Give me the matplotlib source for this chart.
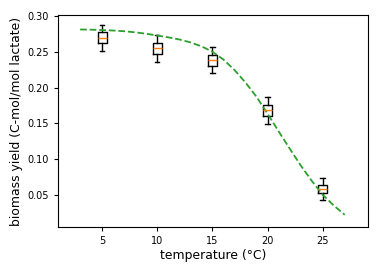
import matplotlib
matplotlib.use("Agg")
import matplotlib.pyplot as plt

temps = [5, 10, 15, 20, 25]
whislo = [0.2508, 0.2355, 0.2198, 0.1492, 0.0429]
q1 = [0.2620, 0.2471, 0.2304, 0.1603, 0.0526]
med = [0.2694, 0.2546, 0.2383, 0.1682, 0.0582]
q3 = [0.2769, 0.2624, 0.2457, 0.1760, 0.0642]
whishi = [0.2875, 0.2735, 0.2568, 0.1872, 0.0735]

# model curve
model_t = [3, 4, 5, 6, 7, 8, 9, 10, 11, 12, 13, 14, 15, 16, 17, 18, 19,
           20, 21, 22, 23, 24, 25, 26, 27]
model_y = [0.281, 0.2807, 0.2802, 0.2795, 0.2785, 0.2770, 0.2750, 0.2725,
           0.2700, 0.2670, 0.2630, 0.2575, 0.2500, 0.2390, 0.2245, 0.2070,
           0.1870, 0.1635, 0.1390, 0.1150, 0.0915, 0.0700, 0.0505, 0.0355,
           0.0224]

stats = []
for i in range(len(temps)):
    stats.append({"whislo": whislo[i], "q1": q1[i], "med": med[i],
                  "q3": q3[i], "whishi": whishi[i], "fliers": []})

fig = plt.figure(figsize=(3.82, 2.75), dpi=100)
ax = fig.add_axes([0.152, 0.1745, 0.811, 0.7705])

ax.bxp(stats, positions=temps, widths=0.8, manage_ticks=False,
       boxprops=dict(linewidth=1), whiskerprops=dict(linewidth=1),
       capprops=dict(linewidth=1), medianprops=dict(color="C1", linewidth=1))
ax.plot(model_t, model_y, "--", color="C2", linewidth=1.3)

ax.set_xlim(1, 29.1)
ax.set_ylim(0.0054, 0.301)
ax.set_xticks(temps)
ax.set_yticks([0.05, 0.10, 0.15, 0.20, 0.25, 0.30])
ax.tick_params(labelsize=7, length=3)

ax.set_xlabel("temperature (°C)", fontsize=8.9, labelpad=2)
ax.set_ylabel("biomass yield (C-mol/mol lactate)", fontsize=8.9, labelpad=3)

fig.savefig("out.png", dpi=100)
